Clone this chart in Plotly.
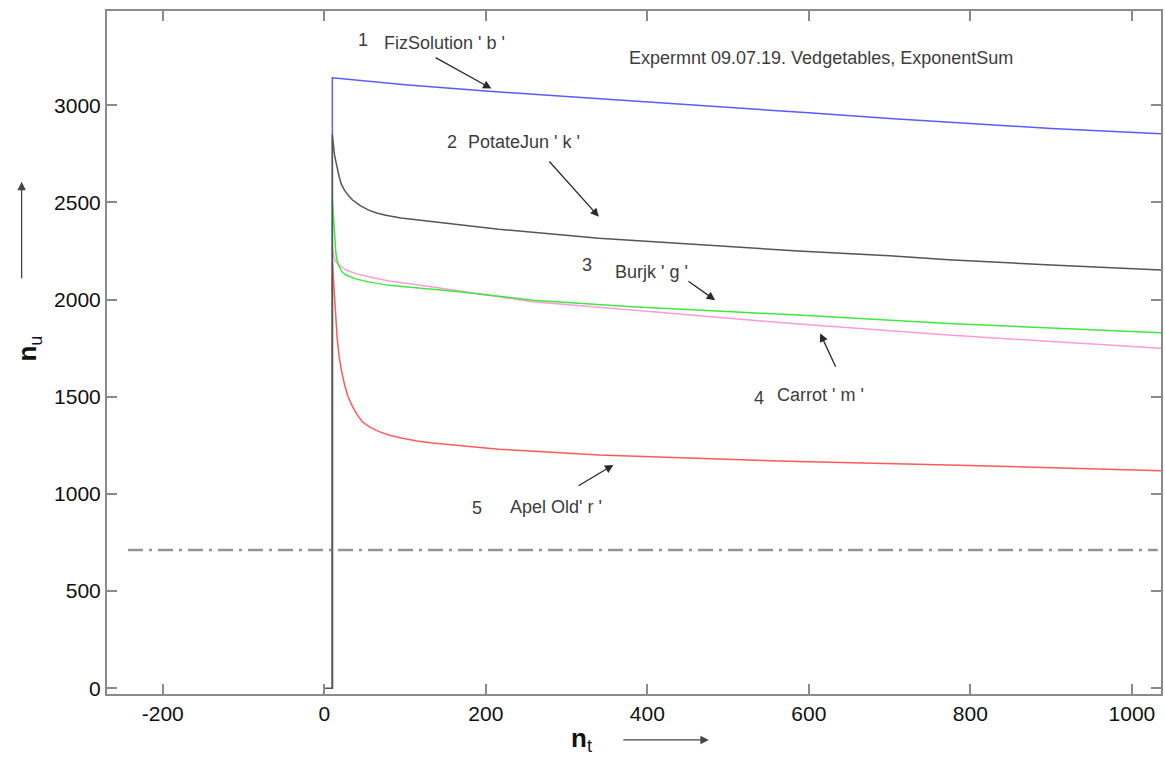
import plotly.graph_objects as go

# Time-series samples (n_t) and decay curves (n_u) for each sample
fiz_x = [10, 10, 100, 200, 300, 400, 500, 600, 700, 800, 900, 1036]
fiz_y = [0, 3141, 3106, 3073, 3045, 3018, 2990, 2961, 2932, 2905, 2880, 2853]

potato_x = [0, 10, 10, 11, 12.5, 14, 16, 18.5, 21, 25, 30, 35, 45, 55, 65, 76, 95, 117, 167, 216,
            340, 463, 525, 587, 700, 773, 900, 1036]
potato_y = [0, 0, 2850, 2800, 2750, 2718, 2670, 2632, 2595, 2563, 2535, 2512, 2482, 2460, 2445, 2434,
            2420, 2409, 2383, 2362, 2315, 2281, 2266, 2250, 2225, 2205, 2178, 2152]

burjk_x = [10, 10, 11, 12, 13, 14.4, 16, 18.5, 22, 27, 40, 55, 80, 117, 167, 258, 381, 505, 587,
           773, 900, 1036]
burjk_y = [0, 2520, 2450, 2380, 2300, 2237, 2200, 2169, 2143, 2126, 2105, 2091, 2073, 2058, 2040,
           1997, 1963, 1937, 1920, 1877, 1853, 1829]

carrot_x = [10, 10, 11, 12, 15, 19, 22.6, 27, 40, 55, 80, 117, 167, 258, 381, 525, 587, 773, 900, 1036]
carrot_y = [0, 2270, 2240, 2220, 2190, 2175, 2165, 2152, 2132, 2117, 2095, 2075, 2045, 1989, 1946,
            1895, 1874, 1817, 1783, 1749]

apel_x = [10, 10, 11, 12, 13, 14.4, 16, 18.5, 21, 24.7, 29, 35, 41, 47, 57, 68, 82, 97, 115, 134,
          167, 216, 340, 463, 525, 587, 773, 900, 1036]
apel_y = [0, 2200, 2130, 2066, 1960, 1877, 1800, 1706, 1640, 1569, 1505, 1449, 1405, 1371, 1342,
          1320, 1300, 1286, 1272, 1262, 1248, 1230, 1200, 1183, 1174, 1166, 1149, 1135, 1119]

level_x = [-243, 1032]
level_y = [711, 711]

x_ticks = [-200, 0, 200, 400, 600, 800, 1000]
x_tick_text = ["-200", "0", "200", "400", "600", "800", "1000"]
y_ticks = [0, 500, 1000, 1500, 2000, 2500, 3000]
y_tick_text = ["0", "500", "1000", "1500", "2000", "2500", "3000"]

FONT = "Liberation Sans, Arial, Helvetica, sans-serif"
AXIS_GRAY = "#8a8a8a"
TEXT_GRAY = "#3c3c3c"

fig = go.Figure()

fig.add_trace(go.Scatter(x=level_x, y=level_y, mode="lines",
                         line=dict(color="#939393", width=2.5, dash="15px,6px,3px,6px")))
fig.add_trace(go.Scatter(x=fiz_x, y=fiz_y, mode="lines", line=dict(color="#5a5aff", width=1.5)))
fig.add_trace(go.Scatter(x=carrot_x, y=carrot_y, mode="lines", line=dict(color="#ff9bd6", width=1.5)))
fig.add_trace(go.Scatter(x=burjk_x, y=burjk_y, mode="lines", line=dict(color="#3fe83f", width=1.5)))
fig.add_trace(go.Scatter(x=apel_x, y=apel_y, mode="lines", line=dict(color="#ff5a5a", width=1.5)))
fig.add_trace(go.Scatter(x=potato_x, y=potato_y, mode="lines", line=dict(color="#555555", width=1.5)))

annotations = []


def label(x, y, text):
    annotations.append(dict(x=x, y=y, xref="x", yref="y", text=text, showarrow=False,
                            xanchor="left", yanchor="middle",
                            font=dict(family=FONT, size=18, color=TEXT_GRAY)))


def pointer(x0, y0, x1, y1):
    annotations.append(dict(x=x1, y=y1, ax=x0, ay=y0, xref="x", yref="y", axref="x", ayref="y",
                            text="", showarrow=True, arrowhead=2, arrowsize=1.3,
                            arrowwidth=1.3, arrowcolor="#2a2a2a", standoff=0))


label(39, 3335, "1")
label(72, 3319, "FizSolution ' b '")
pointer(136, 3249, 207, 3086)

label(375, 3241, "Expermnt 09.07.19. Vedgetables, ExponentSum")

label(150, 2812, "2")
label(175, 2812, "PotateJun ' k '")
pointer(277, 2718, 340, 2426)

label(317, 2177, "3")
label(358, 2143, "Burjk ' g '")
pointer(449, 2100, 484, 1997)

label(529, 1492, "4")
label(558, 1509, "Carrot ' m '")
pointer(634, 1646, 614, 1826)

label(181, 926, "5")
label(227, 934, "Apel Old' r '")
pointer(313, 1037, 358, 1149)

# axis titles with direction arrows
annotations.append(dict(x=-0.092, y=0.505, xref="paper", yref="paper", text="<b>n</b><sub>u</sub>",
                        textangle=-90, showarrow=False,
                        font=dict(family=FONT, size=26, color="#111111")))
annotations.append(dict(x=-0.081, y=0.750, xref="paper", yref="paper", ax=0, ay=98,
                        text="", showarrow=True, arrowhead=2, arrowsize=1.3, arrowwidth=1.3,
                        arrowcolor="#444444", standoff=0))
annotations.append(dict(x=0.45, y=-0.093, xref="paper", yref="paper", text="<b>n</b><sub>t</sub>",
                        showarrow=False, font=dict(family=FONT, size=26, color="#111111")))
annotations.append(dict(x=0.571, y=-0.0673, xref="paper", yref="paper", ax=-87, ay=0,
                        text="", showarrow=True, arrowhead=2, arrowsize=1.3, arrowwidth=1.3,
                        arrowcolor="#444444", standoff=0))

axis_common = dict(showline=True, mirror="ticks", linecolor=AXIS_GRAY, linewidth=2,
                   ticks="inside", ticklen=10, tickwidth=1.5, tickcolor=AXIS_GRAY,
                   showgrid=False, zeroline=False,
                   tickfont=dict(family=FONT, size=21, color="#101010"))

fig.update_layout(
    width=1165, height=760,
    margin=dict(l=107, r=2, t=11, b=66),
    paper_bgcolor="white", plot_bgcolor="white",
    showlegend=False,
    annotations=annotations,
    xaxis=dict(range=[-269, 1036], tickvals=x_ticks, ticktext=x_tick_text, **axis_common),
    yaxis=dict(range=[-30, 3485], tickvals=y_ticks, ticktext=y_tick_text, **axis_common),
)

fig.write_html("out.html")
